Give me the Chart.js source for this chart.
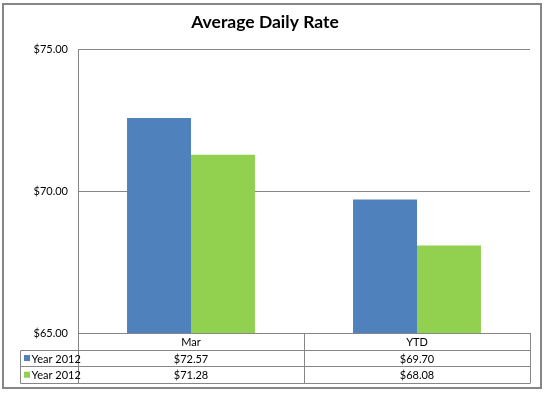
<!DOCTYPE html>
<html>
<head>
<meta charset="utf-8">
<script src="https://cdn.jsdelivr.net/npm/chart.js@4"></script>
<style>
  body { margin: 0; background: #fff; }
  #wrap { width: 545px; height: 394px; }
</style>
</head>
<body>
<div id="wrap"><canvas id="myChart" width="545" height="394"></canvas></div>
<script>
const categories = ["Mar", "YTD"];
const seriesNames = ["Year 2012", "Year 2012"];
const blueValues = [72.57, 69.70];
const greenValues = [71.28, 68.08];
const yTicks = [65, 70, 75];

const barColors = ["#4F81BD", "#92D050"];
const lineColor = "#868686";
const font = "Lato, 'Open Sans', sans-serif";

const money = (v) => "$" + Number(v).toFixed(2);

// draws the outer frame and the data table under the plot
const tablePlugin = {
  id: "dataTable",
  afterDraw(chart) {
    const c = chart.ctx;
    const x = chart.scales.x;
    const top = chart.chartArea.bottom;
    const rowH = 16.7;
    const legendLeft = 20.5;
    const colW = (x.right - x.left) / categories.length;
    const rows = [blueValues, greenValues];

    c.save();
    c.strokeStyle = lineColor;

    // outer border
    c.lineWidth = 2;
    c.strokeRect(3, 4, 538, 384);
    c.lineWidth = 1;

    c.beginPath();
    c.moveTo(x.left + 0.5, top);
    c.lineTo(x.left + 0.5, top + rowH * 3);
    c.moveTo(x.right + 0.5, top);
    c.lineTo(x.right + 0.5, top + rowH * 3);
    for (let i = 1; i < categories.length; i++) {
      const cx = Math.round(x.left + colW * i) + 0.5;
      c.moveTo(cx, top);
      c.lineTo(cx, top + rowH * 3);
    }
    for (let r = 1; r <= 3; r++) {
      const y = Math.round(top + rowH * r) + 0.5;
      c.moveTo(legendLeft, y);
      c.lineTo(x.right + 0.5, y);
    }
    c.moveTo(legendLeft, Math.round(top + rowH) + 0.5);
    c.lineTo(legendLeft, Math.round(top + rowH * 3) + 0.5);
    c.stroke();

    c.fillStyle = "#000";
    c.font = "11px " + font;
    c.textBaseline = "middle";
    c.textAlign = "center";
    categories.forEach((cat, i) => {
      c.fillText(cat, x.getPixelForValue(i), top + rowH / 2 + 1);
    });
    rows.forEach((vals, r) => {
      const y = top + rowH * (r + 1) + rowH / 2 + 1;
      c.textAlign = "center";
      vals.forEach((v, i) => {
        c.fillText(money(v), x.getPixelForValue(i), y);
      });
      c.fillStyle = barColors[r];
      c.fillRect(legendLeft + 3.5, y - 4, 6, 6);
      c.fillStyle = "#000";
      c.textAlign = "left";
      c.fillText(seriesNames[r], legendLeft + 11, y);
    });
    c.restore();
  },
};

new Chart(document.getElementById("myChart"), {
  type: "bar",
  data: {
    labels: categories,
    datasets: [
      { label: seriesNames[0], data: blueValues, backgroundColor: barColors[0] },
      { label: seriesNames[1], data: greenValues, backgroundColor: barColors[1] },
    ],
  },
  options: {
    responsive: false,
    animation: false,
    layout: { padding: { left: 0, right: 15, top: 0, bottom: 61 } },
    datasets: { bar: { categoryPercentage: 0.566, barPercentage: 1.0 } },
    plugins: {
      legend: { display: false },
      tooltip: { enabled: false },
      title: {
        display: true,
        text: "Average Daily Rate",
        color: "#000",
        font: { family: font, size: 17.5, weight: "bold" },
        padding: { top: 12, bottom: 16 },
      },
    },
    scales: {
      x: { display: false },
      y: {
        min: 65,
        max: 75,
        afterFit(scale) { scale.width = 78; },
        afterBuildTicks(scale) { scale.ticks = yTicks.map((v) => ({ value: v })); },
        ticks: {
          color: "#000",
          font: { family: font, size: 11 },
          padding: 10,
          callback: (v) => money(v),
        },
        grid: { color: lineColor, drawTicks: false },
        border: { display: true, color: lineColor },
      },
    },
  },
  plugins: [tablePlugin],
});
</script>
</body>
</html>
